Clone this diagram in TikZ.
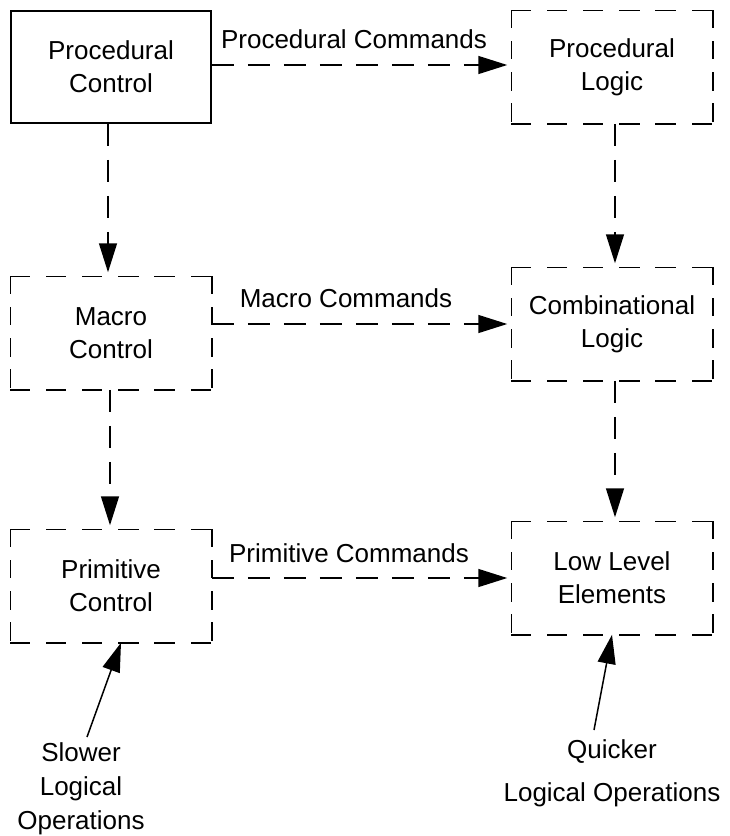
\documentclass[tikz,border=0pt]{standalone}
\usepackage{fontspec}
\setmainfont{Liberation Sans}
\usetikzlibrary{arrows.meta}
\newcommand\dframe[1]{%
  \draw[hside] (#1.north west) -- (#1.north east);
  \draw[hside] (#1.south west) -- (#1.south east);
  \draw[vside] (#1.north west) -- (#1.south west);
  \draw[vside] (#1.north east) -- (#1.south east);}
\begin{document}
\begin{tikzpicture}[x=1pt,y=-1pt,
  box/.style={draw,line width=1.5pt,rectangle,minimum width=200pt,minimum height=112pt,align=center,inner sep=0pt,font=\fontsize{26}{33}\selectfont},
  dbox/.style={box,draw=none},
  hside/.style={line width=1.5pt,line cap=rect,dash pattern=on 19pt off 17.2pt},
  vside/.style={line width=1.5pt,line cap=rect,dash pattern=on 17pt off 14.33pt},
  conn/.style={draw,line width=1.5pt,dash pattern=on 22pt off 14pt,-{Triangle[length=29pt,width=18pt]},shorten >=4pt},
  solidconn/.style={draw,line width=1.5pt,-{Triangle[length=29pt,width=18pt]}},
  lbl/.style={font=\fontsize{26}{33}\selectfont,align=center,inner sep=0pt}]
\useasboundingbox (0,0) rectangle (729,836);
\node[box]  (pc)  at (111,67)  {Procedural\\Control};
\node[dbox] (pl)  at (612,67)  {Procedural\\Logic};
\node[dbox] (mc)  at (111,333) {Macro\\Control};
\node[dbox] (cl)  at (612,324) {Combinational\\Logic};
\node[dbox] (prc) at (111,586) {Primitive\\Control};
\node[dbox] (ll)  at (612,578) {Low Level\\Elements};
\dframe{pl}
\dframe{mc}
\dframe{cl}
\dframe{prc}
\dframe{ll}

\node[lbl] (l1) at (354,39)  {Procedural Commands};
\node[lbl] (l2) at (346,298) {Macro Commands};
\node[lbl] (l3) at (349,553) {Primitive Commands};

\node[lbl,font=\fontsize{26}{34}\selectfont] (slow) at (81,789) {Slower\\Logical\\Operations};
\node[lbl,font=\fontsize{26}{43}\selectfont] (quick) at (612,773) {Quicker\\Logical Operations};

\draw[conn] (pc.east |- 0,65) -- (pl.west |- 0,65);
\draw[conn] (mc.east |- cl.west) -- (cl.west);
\draw[conn] (prc.east |- ll.west) -- (ll.west);

\draw[conn] (pc.south -| 108,0) -- (mc.north -| 108,0);
\draw[conn] (pl.south -| 615,0) -- (cl.north -| 615,0);
\draw[conn] (mc.south -| 110,0) -- (prc.north -| 110,0);
\draw[conn] (cl.south -| 615,0) -- (ll.north -| 615,0);

\coordinate (s1) at (87,737);
\coordinate (q1) at (594,730);
\draw[solidconn] (s1) -- (prc.south -| 121,0);
\draw[solidconn] (q1) -- (ll.south -| 612,0);
\end{tikzpicture}
\end{document}
